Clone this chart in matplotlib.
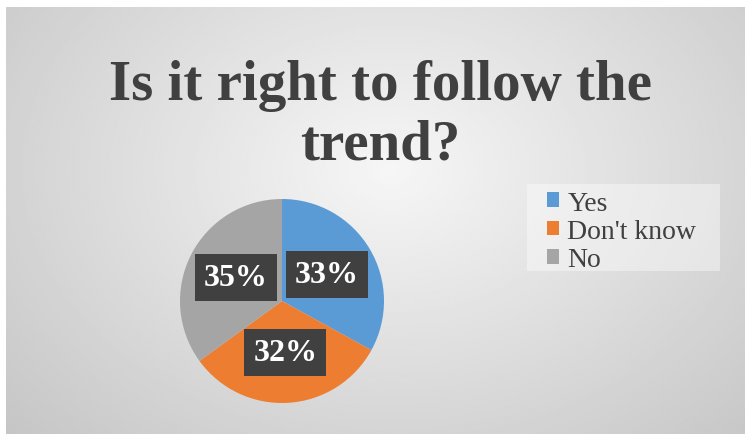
import numpy as np
import matplotlib.pyplot as plt
from matplotlib.patches import Patch, Rectangle

W, H = 745, 435

title_lines = ['Is it right to follow the', 'trend?']
labels = ['Yes', "Don't know", 'No']
values = [33, 32, 35]
colors = ['#5B9BD5', '#ED7D31', '#A5A5A5']

serif = ['Liberation Serif', 'DejaVu Serif']

fig = plt.figure(figsize=(W / 100, H / 100), dpi=100)
fig.patch.set_facecolor('white')


def px_box(x0, y0, w, h):
    # pixel box (top-left origin) -> figure fraction
    return [x0 / W, 1 - (y0 + h) / H, w / W, h / H]


# gradient background of the chart area
bg = fig.add_axes(px_box(6, 8, 739, 427))
yy, xx = np.mgrid[0:1:200j, 0:1:300j]
r = np.sqrt(((xx - 0.52) / 0.75) ** 2 + ((yy - 0.38) / 0.95) ** 2)
shade = 0.965 - 0.2 * np.clip(r, 0, 1.2)
bg.imshow(shade, cmap='gray', vmin=0, vmax=1, aspect='auto',
          extent=[0, 1, 1, 0], interpolation='bilinear')
bg.axis('off')

# title, one text per line (baselines)
for line, base in zip(title_lines, [100, 160]):
    fig.text(380 / W, 1 - base / H, line, ha='center', va='baseline',
             fontsize=41, fontweight='bold', family=serif, color='#404040')

# pie
ax = fig.add_axes(px_box(180, 200, 204, 204))
wedges, _, autotexts = ax.pie(values, colors=colors, startangle=90,
                              counterclock=False, autopct='%.0f%%',
                              pctdistance=0.51, radius=1,
                              wedgeprops=dict(linewidth=0))
for t in autotexts:
    t.set_fontsize(23)
    t.set_fontweight('bold')
    t.set_family(serif)
    t.set_color('white')
    t.set_bbox(dict(boxstyle='square,pad=0.28', facecolor='#404040',
                    edgecolor='none'))
ax.set_xlim(-1, 1)
ax.set_ylim(-1, 1)
ax.set_aspect('equal')
ax.axis('off')

# legend: light box behind, entries without frame
fig.patches.append(Rectangle((527 / W, 1 - 272 / H), 193 / W, 87 / H,
                             transform=fig.transFigure, facecolor='white',
                             alpha=0.4, edgecolor='none', zorder=1))
handles = [Patch(facecolor=c, edgecolor='none') for c in colors]
leg = fig.legend(handles, labels, loc='upper left',
                 bbox_to_anchor=(541 / W, 1 - 186 / H),
                 prop={'family': serif, 'size': 20},
                 handlelength=0.45, handleheight=0.45, handletextpad=0.3,
                 labelspacing=0.12, borderpad=0.2, borderaxespad=0,
                 frameon=False, labelcolor='#404040')

fig.savefig('out.png', dpi=100)
